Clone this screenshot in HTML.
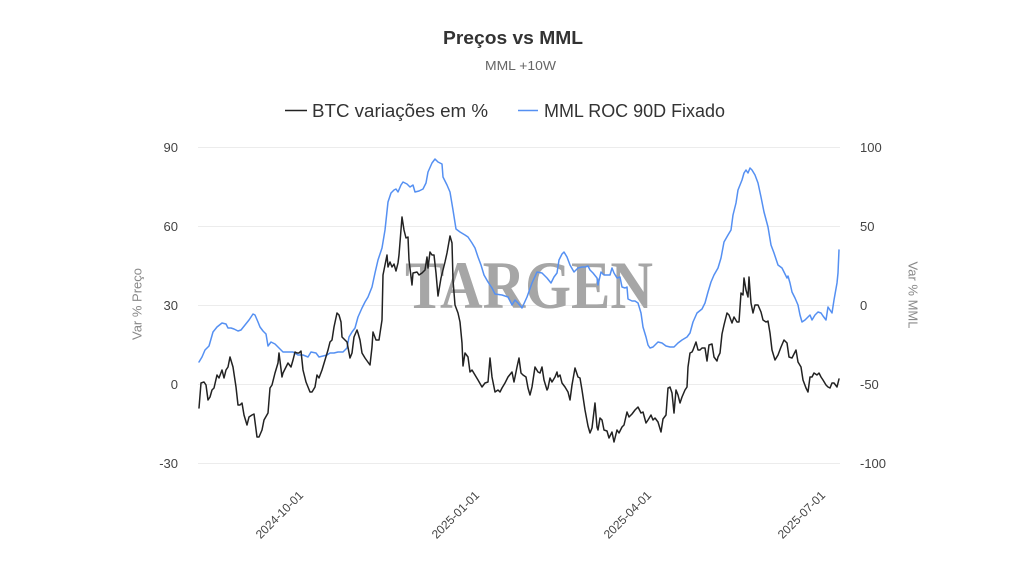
<!DOCTYPE html>
<html>
<head>
<meta charset="utf-8">
<style>
  html, body { margin: 0; padding: 0; background: #ffffff; }
  svg { display: block; }
  text { font-family: "Liberation Sans", Arial, sans-serif; }
</style>
</head>
<body>
<svg width="1024" height="576" viewBox="0 0 1024 576" xmlns="http://www.w3.org/2000/svg">
  <rect x="0" y="0" width="1024" height="576" fill="#ffffff"/>

  <!-- Title -->
  <text x="513" y="44" text-anchor="middle" font-size="18" font-weight="bold" fill="#333333" textLength="140" lengthAdjust="spacingAndGlyphs">Preços vs MML</text>
  <text x="520.5" y="70" text-anchor="middle" font-size="12.5" fill="#666666" textLength="71" lengthAdjust="spacingAndGlyphs">MML +10W</text>

  <!-- Legend -->
  <line x1="285" y1="110.5" x2="307" y2="110.5" stroke="#222222" stroke-width="1.4"/>
  <text x="312" y="117" font-size="18" fill="#333333" textLength="176" lengthAdjust="spacingAndGlyphs">BTC variações em %</text>
  <line x1="518" y1="110.5" x2="538" y2="110.5" stroke="#5590f2" stroke-width="1.4"/>
  <text x="544" y="117" font-size="18" fill="#333333" textLength="181" lengthAdjust="spacingAndGlyphs">MML ROC 90D Fixado</text>

  <!-- Grid lines -->
  <g stroke="#ececec" stroke-width="1">
    <line x1="198" y1="147.5" x2="840" y2="147.5"/>
    <line x1="198" y1="226.5" x2="840" y2="226.5"/>
    <line x1="198" y1="305.5" x2="840" y2="305.5"/>
    <line x1="198" y1="384.5" x2="840" y2="384.5"/>
    <line x1="198" y1="463.5" x2="840" y2="463.5"/>
  </g>

  <!-- Left axis labels -->
  <g font-size="13" fill="#444444" text-anchor="end">
    <text x="178" y="152">90</text>
    <text x="178" y="231">60</text>
    <text x="178" y="310">30</text>
    <text x="178" y="389">0</text>
    <text x="178" y="468">-30</text>
  </g>
  <!-- Right axis labels -->
  <g font-size="13" fill="#444444" text-anchor="start">
    <text x="860" y="152">100</text>
    <text x="860" y="231">50</text>
    <text x="860" y="310">0</text>
    <text x="860" y="389">-50</text>
    <text x="860" y="468">-100</text>
  </g>

  <!-- Axis titles -->
  <text x="0" y="0" font-size="13" fill="#888888" text-anchor="middle" transform="translate(141.5,304) rotate(-90)">Var % Preço</text>
  <text x="0" y="0" font-size="13" fill="#888888" text-anchor="middle" transform="translate(908.5,295) rotate(90)">Var % MML</text>

  <!-- X axis labels -->
  <g font-size="12" fill="#444444" text-anchor="end">
    <text x="0" y="0" transform="translate(304,496) rotate(-45)">2024-10-01</text>
    <text x="0" y="0" transform="translate(480,496) rotate(-45)">2025-01-01</text>
    <text x="0" y="0" transform="translate(652,496) rotate(-45)">2025-04-01</text>
    <text x="0" y="0" transform="translate(826,496) rotate(-45)">2025-07-01</text>
  </g>

  <!-- Watermark -->
  <text x="405" y="308" font-size="68" font-weight="bold" fill="#a6a6a6" textLength="248" lengthAdjust="spacingAndGlyphs" style="font-family:'Liberation Serif','Times New Roman',serif;">TARGEN</text>

  <!-- MML series (blue) -->
  <polyline fill="none" stroke="#5590f2" stroke-width="1.5" stroke-linejoin="round" stroke-linecap="round"
    points="199,362 202,357 205,350 209,346 213,332 217,327 222,323 226,324 228,328 231,328 234,329 238,331 241,330 245,325 249,320 253,314 255,315 258,322 260,327 263,331 266,334 268,346 271,342 275,344 279,348 283,352 288,352 293,352 298,355 303,355 308,357 311,352 316,353 319,357 323,356 327,355 330,353 334,353 338,352 343,352 347,348 349,337 352,332 355,328 358,317 362,308 365,302 368,297 372,287 375,273 378,260 382,248 385,230 388,202 391,193 394,190 396,189 398,192 401,185 403,182 407,184 410,187 413,185 415,192 419,191 423,189 426,183 428,172 432,163 435,159 438,162 442,164 443,177 447,185 450,192 453,210 456,229 460,232 465,235 468,237 472,243 475,248 478,257 481,265 484,275 488,282 492,288 495,294 502,295 508,297 512,305 515,300 518,303 522,308 527,297 532,283 537,272 542,273 547,278 551,283 554,277 557,273 559,260 562,254 564,252 567,257 570,265 574,272 578,268 582,267 585,267 588,266 590,270 593,273 597,278 598,285 601,272 604,275 607,275 610,275 612,268 614,273 617,278 620,277 622,287 625,288 627,287 628,299 632,301 635,301 638,303 641,313 643,327 646,337 648,345 650,348 653,347 658,342 662,343 666,346 670,347 674,347 678,343 682,340 687,337 690,333 693,322 697,313 702,309 705,303 708,292 711,282 714,275 718,268 721,258 724,242 728,235 731,230 733,215 736,203 738,190 742,180 744,173 746,170 748,173 750,168 752,170 755,175 758,183 761,197 764,212 768,227 771,245 774,253 778,265 782,268 784,272 787,278 788,276 790,283 792,292 795,298 798,305 800,315 802,322 805,320 808,317 810,315 812,320 815,315 818,312 821,313 823,316 826,320 828,307 830,310 832,313 834,300 837,283 838,273 839,250"/>

  <!-- BTC series (black) -->
  <polyline fill="none" stroke="#222222" stroke-width="1.5" stroke-linejoin="round" stroke-linecap="round"
    points="199,408 201,383 204,382 206,385 208,400 210,397 212,390 214,388 217,375 219,378 222,370 224,378 226,370 228,367 230,357 233,367 236,387 238,405 240,405 242,403 244,415 247,425 249,417 252,415 254,414 257,437 259,437 262,430 264,420 268,413 270,388 272,385 275,373 278,363 279,353 282,377 283,373 286,367 288,363 291,367 293,360 295,352 297,353 299,353 301,351 303,370 306,382 308,387 310,392 312,392 315,387 317,375 319,378 322,370 325,360 328,350 330,342 332,340 334,327 337,313 339,315 341,322 342,337 345,340 347,342 350,358 352,353 354,337 357,330 358,333 360,340 362,353 365,358 370,365 372,347 373,332 376,340 379,340 382,320 383,275 387,255 388,267 390,262 392,267 394,264 396,271 398,263 399,255 402,217 404,230 406,238 408,237 409,260 412,285 413,273 417,272 419,275 422,273 425,270 427,257 428,268 430,252 432,255 434,255 436,273 438,296 441,278 443,270 445,262 447,253 450,236 452,243 453,280 455,305 458,313 460,322 462,343 463,366 465,353 468,357 470,372 472,370 475,375 478,380 482,387 485,383 488,382 490,358 492,377 495,392 498,390 500,392 502,388 505,383 508,377 512,372 514,382 517,367 519,358 521,373 523,375 526,377 528,388 530,395 532,387 535,367 538,372 540,373 542,367 544,380 547,390 548,388 550,378 552,382 555,377 557,372 558,377 560,375 562,383 565,387 568,392 570,400 572,385 575,368 578,377 580,378 582,390 585,410 588,426 590,433 592,428 595,403 597,427 598,430 600,418 602,420 604,430 607,431 609,438 612,432 614,442 617,430 619,433 622,427 624,425 627,412 629,417 632,414 635,410 638,407 641,413 643,412 646,423 648,420 651,415 653,420 655,418 658,422 661,432 663,419 666,415 668,388 670,387 672,393 674,413 676,390 678,395 680,403 682,397 685,390 687,387 688,367 690,353 692,352 693,350 696,342 698,350 700,350 702,348 705,348 707,361 709,345 712,344 714,357 717,361 718,357 720,353 722,334 724,325 727,313 729,315 732,323 734,317 737,322 739,322 741,293 743,295 744,278 746,290 748,297 749,277 751,303 753,313 755,305 758,305 761,312 763,320 766,322 768,321 770,333 772,350 775,360 778,355 781,347 784,340 787,343 789,357 792,358 796,350 798,362 801,367 803,380 806,388 808,392 810,377 812,377 814,373 817,375 819,373 821,377 823,380 826,385 828,387 830,388 832,383 834,383 837,387 839,379"/>
</svg>
</body>
</html>
